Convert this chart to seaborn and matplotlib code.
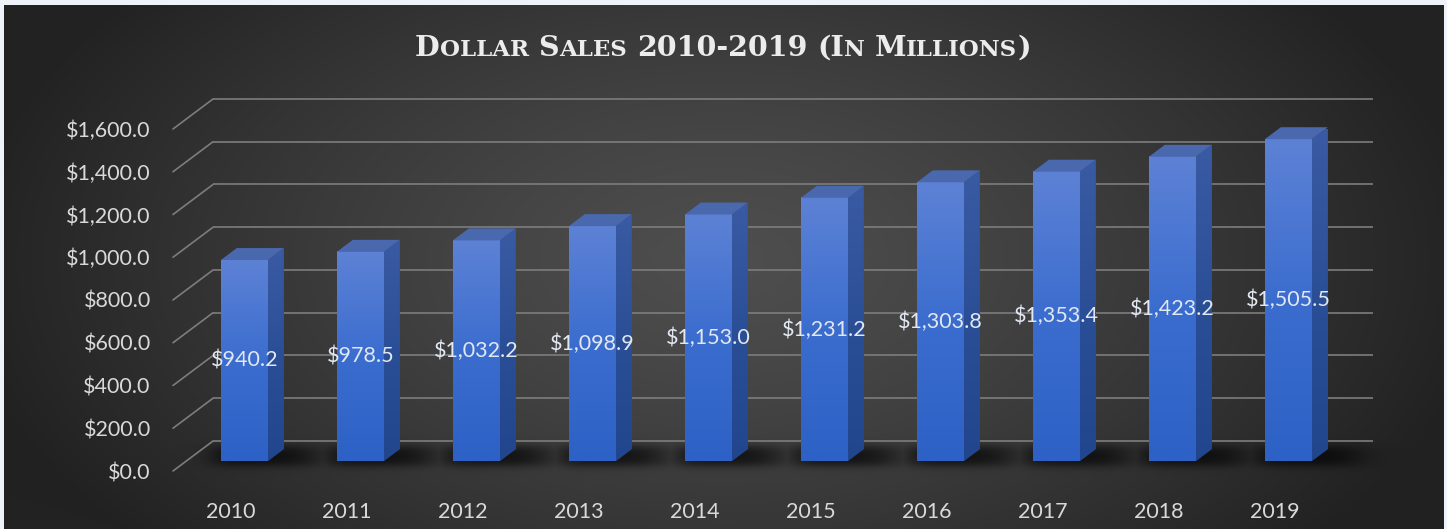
import numpy as np
import pandas as pd
import matplotlib
matplotlib.use("Agg")
import matplotlib.pyplot as plt
import seaborn as sns
from matplotlib.patches import Polygon
from matplotlib.colors import LinearSegmentedColormap

# ---- data ----
years = ["2010", "2011", "2012", "2013", "2014", "2015", "2016", "2017", "2018", "2019"]
sales = [940.2, 978.5, 1032.2, 1098.9, 1153.0, 1231.2, 1303.8, 1353.4, 1423.2, 1505.5]
y_ticks = [0, 200, 400, 600, 800, 1000, 1200, 1400, 1600]
title_text = "Dollar Sales 2010-2019 (In Millions)"

# ---- figure geometry (pixels) ----
W, H, DPI = 1447, 529, 100
PANEL = (4, 5, 1443, 529)          # left, top, right, bottom of the dark panel
DEPTH_PX = (40.0, 30.0)            # oblique depth offset of the back wall
D_FRONT, D_BACK = 1 / 3, 0.733     # bar depth span as a fraction of floor depth

GRID = "#7d7d7d"
TXT = "#d9d9d9"
LBL = "#e2e8f2"
FS = 15.5

sns.set_theme(style="white")
plt.rcParams["font.family"] = ["Lato", "DejaVu Sans"]

fig = plt.figure(figsize=(W / DPI, H / DPI), dpi=DPI)
fig.patch.set_facecolor("#eef3f9")

bg_ax = fig.add_axes([0, 0, 1, 1], zorder=-1)
bg_ax.set_axis_off()

ax = fig.add_axes([173 / W, 58 / H, 1160 / W, 342 / H])
ax.set_facecolor("none")

df = pd.DataFrame({"year": years, "sales": sales})
sns.barplot(data=df, x="year", y="sales", width=0.405, color="#2f62c6",
            saturation=1, ax=ax, zorder=4)
ax.set_xlim(-0.5, 9.5)
ax.set_ylim(0, 1600)
ax.set_xlabel("")
ax.set_ylabel("")
ax.grid(False)
for s in ax.spines.values():
    s.set_visible(False)
ax.set_yticks(y_ticks)
ax.set_yticklabels([f"${v:,.1f}" for v in y_ticks])
ax.tick_params(axis="y", length=0, pad=16, labelsize=FS, labelcolor=TXT)
ax.tick_params(axis="x", length=0, pad=22, labelsize=FS, labelcolor=TXT)

# pixel -> data conversion for the oblique depth
p0 = ax.transData.transform((0, 0))
p1 = ax.transData.transform((1, 1))
px_x, px_y = p1[0] - p0[0], p1[1] - p0[1]
ddx, ddy = DEPTH_PX[0] / px_x, DEPTH_PX[1] / px_y
x_lo, x_hi = -0.5, 9.5

# back wall gridlines and side-wall diagonals
for v in y_ticks:
    ax.plot([x_lo + ddx, x_hi + ddx], [v + ddy, v + ddy], color=GRID, lw=1.2,
            clip_on=False, zorder=1, solid_capstyle="butt")
    ax.plot([x_lo, x_lo + ddx], [v, v + ddy], color=GRID, lw=1.2,
            clip_on=False, zorder=1)

front_cmap = LinearSegmentedColormap.from_list("front", ["#2e61c5", "#3b6dcf", "#5d82d5"])
side_cmap = LinearSegmentedColormap.from_list("side", ["#22468e", "#2b4f97", "#3a5ba3"])
grad = np.linspace(0, 1, 256).reshape(-1, 1)

dd = D_BACK - D_FRONT
bar_px = []
for patch, val in zip(list(ax.patches), sales):
    bx, bw, bh = patch.get_x(), patch.get_width(), patch.get_height()
    fx, fy = bx + D_FRONT * ddx, D_FRONT * ddy
    patch.set_xy((fx, fy))
    patch.set_edgecolor("none")

    # front face gradient
    ax.imshow(grad, extent=[fx, fx + bw, fy, fy + bh], origin="lower",
              aspect="auto", cmap=front_cmap, zorder=4.2, interpolation="bilinear")

    # right side face
    side = Polygon([(fx + bw, fy), (fx + bw + dd * ddx, fy + dd * ddy),
                    (fx + bw + dd * ddx, fy + bh + dd * ddy), (fx + bw, fy + bh)],
                   closed=True, facecolor="#2b4f97", edgecolor="none", zorder=4)
    ax.add_patch(side)
    im = ax.imshow(grad, extent=[fx + bw, fx + bw + dd * ddx, fy, fy + bh + dd * ddy],
                   origin="lower", aspect="auto", cmap=side_cmap, zorder=4.1,
                   interpolation="bilinear")
    im.set_clip_path(side)

    # top face
    top = Polygon([(fx, fy + bh), (fx + bw, fy + bh),
                   (fx + bw + dd * ddx, fy + bh + dd * ddy), (fx + dd * ddx, fy + bh + dd * ddy)],
                  closed=True, facecolor="#4a68ae", edgecolor="none", zorder=4.3,
                  clip_on=False)
    ax.add_patch(top)

    # value label in the middle of the front face
    ax.text(fx + bw / 2, fy + bh / 2, f"${val:,.1f}", ha="center", va="center",
            color=LBL, fontsize=FS, zorder=6)

    bl = ax.transData.transform((fx, fy))
    br = ax.transData.transform((fx + bw, fy))
    bar_px.append((bl[0], br[0], H - bl[1]))

ax.set_xlim(-0.5, 9.5)
ax.set_ylim(0, 1600)

# ---- background: radial gradient panel with soft floor shadows ----
yy, xx = np.mgrid[0:H, 0:W].astype(float)
cx, cy = 723.0, 260.0
t = np.sqrt(((xx - cx) / 760.0) ** 2 + ((yy - cy) / 430.0) ** 2)
t = np.clip(t, 0, 1) ** 1.3
c_in, c_out = 0x4e / 255, 0x22 / 255
lum = c_in + (c_out - c_in) * t


def sig(z):
    return 1.0 / (1.0 + np.exp(-z))


shade = np.zeros_like(lum)
for xl, xr, yb in bar_px:
    s = (sig((xx - (xl - 8)) / 8.0) * sig(((xr + 45) - xx) / 12.0)
         * sig((yy - (yb - 15)) / 2.5) * sig(((yb + 4) - yy) / 2.5))
    shade = np.maximum(shade, s)
lum = lum * (1 - 0.7 * shade)

bg = np.dstack([lum, lum, lum])
border = np.array([0xee, 0xf3, 0xf9]) / 255
outside = (xx < PANEL[0]) | (xx > PANEL[2]) | (yy < PANEL[1]) | (yy > PANEL[3])
bg[outside] = border
bg_ax.imshow(bg, extent=[0, W, H, 0], origin="upper", aspect="auto", interpolation="nearest")
bg_ax.set_xlim(0, W)
bg_ax.set_ylim(H, 0)

# ---- small-caps serif title ----
def small_caps_title(text, xc, y_base, big, small, color):
    renderer = fig.canvas.get_renderer()
    props = dict(family=["DejaVu Serif"], weight="bold", color=color)

    def width(s, size):
        tt = fig.text(0, 0, s, fontsize=size, **props)
        w = tt.get_window_extent(renderer).width
        tt.remove()
        return w

    runs = []
    for ch in text:
        if ch == " ":
            runs.append([" ", big])
            continue
        size = small if ch.islower() else big
        c = ch.upper()
        if runs and runs[-1][0] != " " and runs[-1][1] == size:
            runs[-1][0] += c
        else:
            runs.append([c, size])

    advs = []
    for s, size in runs:
        if s == " ":
            advs.append(width("I I", size) - width("II", size))
        else:
            advs.append(width("I" + s + "I", size) - width("II", size))
    x = xc - sum(advs) / 2
    for (s, size), a in zip(runs, advs):
        if s != " ":
            fig.text(x / W, y_base / H, s, fontsize=size, ha="left", va="baseline", **props)
        x += a


small_caps_title(title_text, 723, H - 56, 20.5, 16.5, "#ececec")

fig.savefig("out.png", dpi=DPI)
